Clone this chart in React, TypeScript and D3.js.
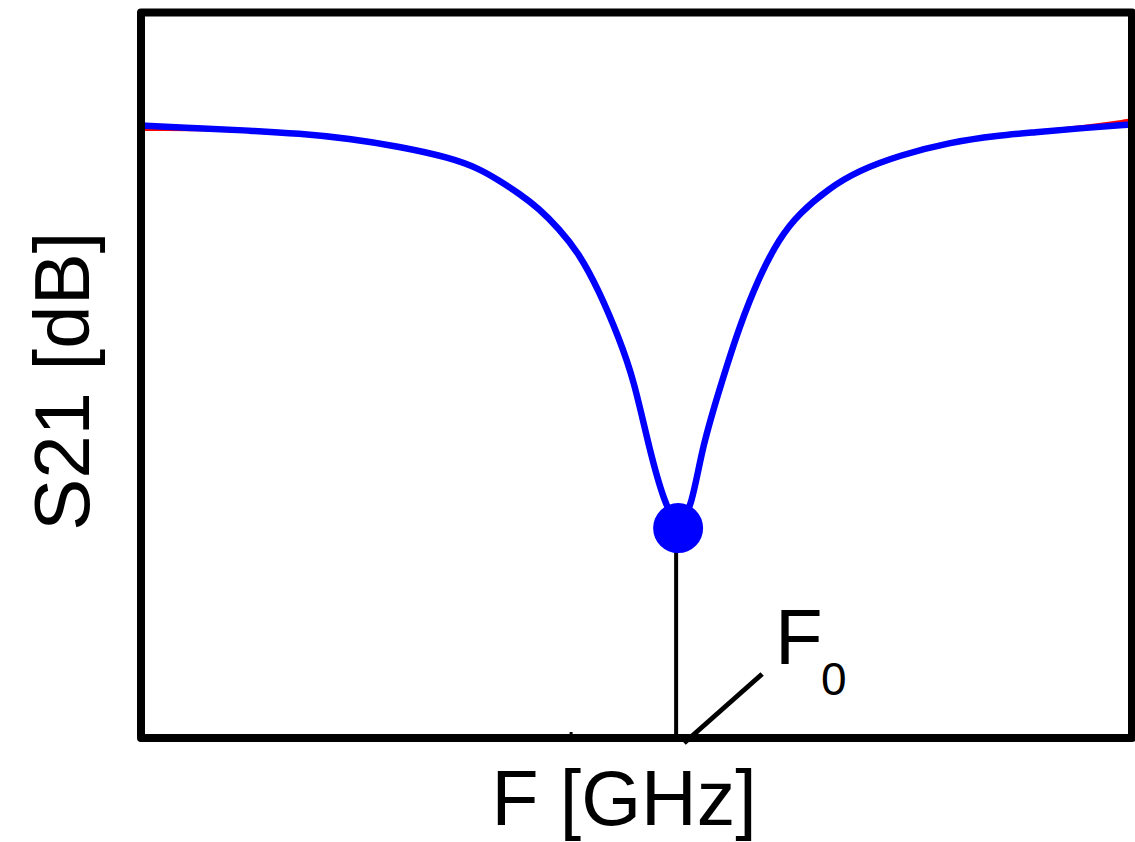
import React from "react";
import * as d3 from "d3";

// Measured transmission S21 around the resonance (frequency in GHz, level in dB)
const freqGHz = [
  4.0, 4.117, 4.218, 4.319, 4.42, 4.521, 4.622, 4.682, 4.722, 4.763, 4.803,
  4.843, 4.884, 4.924, 4.965, 4.995, 5.025, 5.056, 5.084, 5.112, 5.132, 5.173,
  5.207, 5.247, 5.288, 5.328, 5.388, 5.449, 5.53, 5.631, 5.732, 5.802, 5.893, 6.0,
];
const s21dB = [
  -4.67, -4.79, -4.88, -5.0, -5.21, -5.54, -5.99, -6.45, -6.94, -7.48, -8.1,
  -8.93, -9.96, -11.49, -13.47, -15.21, -17.98, -20.29, -21.32, -20.45, -17.98,
  -15.21, -13.02, -10.95, -9.34, -8.31, -7.27, -6.53, -5.91, -5.37, -5.08, -4.96,
  -4.79, -4.63,
];
// Fitted curve (same frequency grid), drawn underneath the measurement
const fitdB = [
  -4.8, -4.79, -4.88, -5.0, -5.21, -5.54, -5.99, -6.45, -6.94, -7.48, -8.1,
  -8.93, -9.96, -11.49, -13.47, -15.21, -17.98, -20.29, -21.32, -20.45, -17.98,
  -15.21, -13.02, -10.95, -9.34, -8.31, -7.27, -6.53, -5.91, -5.37, -5.08, -4.96,
  -4.79, -4.48,
];

// Resonance marker
const f0GHz = 5.084;
const f0dB = -21.32;

const xDomain = [4.0, 6.0];
const yDomain = [-30, 0];
const minorTicks = [4.868];

const W = 1135;
const H = 842;
const plot = { left: 141, right: 1132, top: 12.5, bottom: 738 };
const font = "'Liberation Sans', Arial, Helvetica, sans-serif";

export default function App() {
  const x = d3.scaleLinear().domain(xDomain).range([plot.left, plot.right]);
  const y = d3.scaleLinear().domain(yDomain).range([plot.bottom, plot.top]);

  const makeLine = () =>
    d3
      .line<number>()
      .x((_, i) => x(freqGHz[i]))
      .y((d) => y(d))
      .curve(d3.curveBasis);

  const cx = x(f0GHz);
  const cy = y(f0dB);

  return (
    <svg
      width={W}
      height={H}
      style={{ position: "absolute", left: 0, top: 0, background: "#fff" }}
    >
      <path d={makeLine()(fitdB) || ""} fill="none" stroke="#ff0000" strokeWidth={5} />
      <path
        d={makeLine()(s21dB) || ""}
        fill="none"
        stroke="#0000ff"
        strokeWidth={6.5}
        strokeLinejoin="round"
      />

      {/* drop line from the resonance to the frequency axis */}
      <line x1={cx - 2} x2={cx - 2} y1={cy} y2={plot.bottom} stroke="#000" strokeWidth={4} />
      <circle cx={cx} cy={cy} r={25} fill="#0000ff" />

      {/* leader to the F0 label */}
      <line
        x1={cx + 6}
        y1={plot.bottom + 5}
        x2={cx + 84}
        y2={plot.bottom - 64}
        stroke="#000"
        strokeWidth={5}
      />
      <text x={cx + 97} y={664} fontFamily={font} fontSize={78} fill="#000">
        F
      </text>
      <text x={cx + 143} y={695} fontFamily={font} fontSize={46} fill="#000">
        0
      </text>

      {minorTicks.map((t) => (
        <line
          key={t}
          x1={x(t)}
          x2={x(t)}
          y1={plot.bottom - 6}
          y2={plot.bottom}
          stroke="#000"
          strokeWidth={3}
        />
      ))}

      {/* frame */}
      <rect
        x={plot.left}
        y={plot.top}
        width={plot.right - plot.left}
        height={plot.bottom - plot.top}
        fill="none"
        stroke="#000"
        strokeWidth={8}
        strokeLinejoin="round"
      />

      <text
        x={624}
        y={825}
        textAnchor="middle"
        fontFamily={font}
        fontSize={77}
        fill="#000"
      >
        F [GHz]
      </text>
      <text
        transform={`translate(89, ${(plot.top + plot.bottom) / 2 + 6}) rotate(-90)`}
        textAnchor="middle"
        fontFamily={font}
        fontSize={78}
        fill="#000"
      >
        S21 [dB]
      </text>
    </svg>
  );
}
